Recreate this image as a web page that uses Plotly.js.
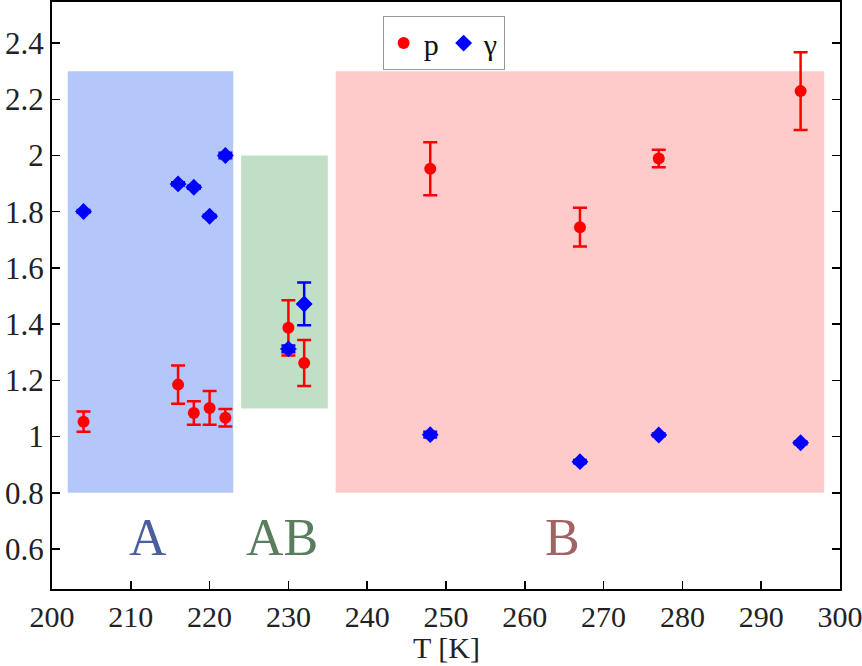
<!DOCTYPE html>
<html>
<head>
<meta charset="utf-8">
<script src="https://cdn.plot.ly/plotly-3.0.1.min.js"></script>
<style>html,body{margin:0;padding:0;background:#fff;}#chart{width:862px;height:666px;}</style>
</head>
<body>
<div id="chart"></div>
<script>
// Data
const pT = [204, 216, 218, 220, 222, 230, 232, 248, 267, 277, 295];
const pVal = [1.053, 1.185, 1.084, 1.102, 1.067, 1.387, 1.262, 1.953, 1.745, 1.989, 2.229];
const pErr = [0.036, 0.068, 0.042, 0.060, 0.031, 0.098, 0.082, 0.094, 0.069, 0.031, 0.138];

const gT = [204, 216, 218, 220, 222, 230, 232, 248, 267, 277, 295];
const gVal = [1.801, 1.899, 1.887, 1.784, 2.000, 1.312, 1.472, 1.007, 0.911, 1.006, 0.978];
const gErr = [0.005, 0.006, 0.005, 0.005, 0.010, 0.012, 0.076, 0.010, 0.006, 0.005, 0.005];

// Regions
const regionNames = ['A', 'AB', 'B'];
const regionX0 = [202, 224, 236];
const regionX1 = [223, 235, 298];
const regionY0 = [0.8, 1.1, 0.8];
const regionY1 = [2.3, 2.0, 2.3];
const regionFill = ['#b3c7fa', '#c0dfc6', '#ffcaca'];
const regionLabelColor = ['#4a5e9e', '#5a7d5e', '#a06464'];
const regionLabelX = [212.2, 229.2, 264.8];
const regionLabelY = 0.64;

const xTitle = 'T [K]';

const serif = 'Liberation Serif';

const traces = [
  {
    x: pT, y: pVal, type: 'scatter', mode: 'markers', name: 'p',
    marker: {color: '#ff0000', size: 12, symbol: 'circle'},
    error_y: {type: 'data', array: pErr, visible: true, color: '#ff0000', thickness: 2.5, width: 7}
  },
  {
    x: gT, y: gVal, type: 'scatter', mode: 'markers', name: 'γ',
    marker: {color: '#0000ff', size: 13, symbol: 'diamond'},
    error_y: {type: 'data', array: gErr, visible: true, color: '#0000ff', thickness: 2.5, width: 7}
  }
];

const shapes = regionNames.map((n, i) => ({
  type: 'rect', xref: 'x', yref: 'y', layer: 'below',
  x0: regionX0[i], x1: regionX1[i], y0: regionY0[i], y1: regionY1[i],
  fillcolor: regionFill[i], line: {width: 0}
}));

const annotations = regionNames.map((n, i) => ({
  x: regionLabelX[i], y: regionLabelY, xref: 'x', yref: 'y', text: n,
  showarrow: false, font: {family: serif, size: 52, color: regionLabelColor[i]}
}));
annotations.push({
  x: 0.5, y: -0.1, xref: 'paper', yref: 'paper', xanchor: 'center', yanchor: 'middle',
  text: xTitle, showarrow: false, font: {family: serif, size: 30, color: '#222'}
});

const layout = {
  width: 862, height: 666,
  margin: {l: 52, r: 22, t: 2, b: 77},
  paper_bgcolor: '#ffffff', plot_bgcolor: '#ffffff',
  font: {family: serif, size: 30, color: '#222'},
  showlegend: true,
  legend: {
    orientation: 'h', x: 0.497, xanchor: 'center', y: 0.976, yanchor: 'top',
    bgcolor: '#ffffff', bordercolor: '#999', borderwidth: 1,
    font: {family: serif, size: 30, color: '#111'}
  },
  xaxis: {
    range: [200, 300], tickmode: 'linear', dtick: 10, tick0: 200,
    ticklabeloverflow: 'allow',
    showgrid: false, zeroline: false,
    showline: true, linecolor: '#000', linewidth: 2, mirror: true,
    ticks: 'inside', ticklen: 8, tickwidth: 1.5, tickcolor: '#000',
    tickfont: {family: serif, size: 30, color: '#222'}
  },
  yaxis: {
    range: [0.458, 2.546], tickmode: 'linear', dtick: 0.2, tick0: 0.6,
    ticklabeloverflow: 'allow',
    showgrid: false, zeroline: false,
    showline: true, linecolor: '#000', linewidth: 2, mirror: 'ticks',
    ticks: 'inside', ticklen: 8, tickwidth: 1.5, tickcolor: '#000',
    tickfont: {family: serif, size: 31, color: '#222'}
  },
  shapes: shapes,
  annotations: annotations
};

Plotly.newPlot('chart', traces, layout, {displayModeBar: false, staticPlot: true});
</script>
</body>
</html>
